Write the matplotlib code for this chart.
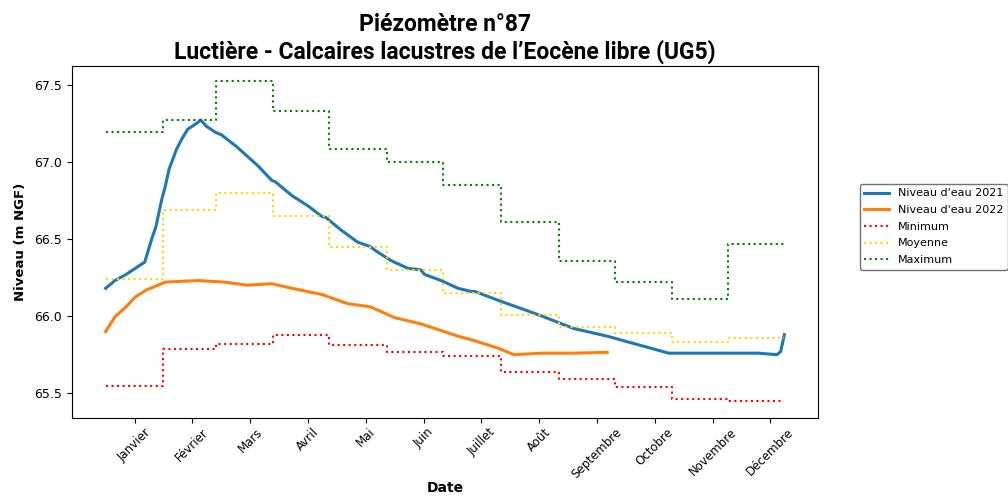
import numpy as np
import matplotlib
matplotlib.use("Agg")
import matplotlib.pyplot as plt

# ---- data (x = day of year, 0 = 1 January) ----
month_labels = ["Janvier", "Février", "Mars", "Avril", "Mai", "Juin",
                "Juillet", "Août", "Septembre", "Octobre", "Novembre", "Décembre"]
month_start_days = [0, 31, 59, 90, 120, 151, 181, 212, 243, 273, 304, 334]
year_end_day = 364

minimum = [65.55, 65.79, 65.82, 65.88, 65.81, 65.77, 65.74, 65.64, 65.59, 65.54, 65.46, 65.45]
moyenne = [66.24, 66.69, 66.80, 66.65, 66.45, 66.30, 66.15, 66.005, 65.93, 65.89, 65.83, 65.86]
maximum = [67.19, 67.27, 67.52, 67.33, 67.08, 66.995, 66.85, 66.61, 66.36, 66.22, 66.11, 66.47]

days_2021 = [0, 5, 11, 16, 21, 23, 25, 27, 30, 32, 34, 38, 41, 44, 49, 51, 54, 59, 62, 70,
             82, 89, 91, 100, 109, 116, 118, 126, 135, 142, 144, 153, 162, 169, 171, 180,
             189, 196, 198, 211, 225, 234, 251, 269, 284, 296, 302, 314, 332, 350, 360,
             362, 364]
niveau_2021 = [66.18, 66.23, 66.27, 66.31, 66.35, 66.43, 66.51, 66.58, 66.75, 66.84, 66.95,
               67.08, 67.15, 67.21, 67.25, 67.27, 67.23, 67.19, 67.175, 67.10,
               66.97, 66.88, 66.87, 66.78, 66.71, 66.645, 66.64, 66.56, 66.48, 66.45, 66.43,
               66.36, 66.31, 66.30, 66.27, 66.23,
               66.18, 66.16, 66.16, 66.10, 66.04, 66.00, 65.92, 65.87, 65.82, 65.78, 65.76,
               65.76, 65.76, 65.76, 65.75, 65.77, 65.88]

days_2022 = [0, 5, 11, 16, 22, 27, 32, 40, 50, 64, 76, 89, 100, 116, 130, 142, 155, 169,
             189, 198, 211, 219, 234, 251, 269]
niveau_2022 = [65.90, 65.995, 66.06, 66.125, 66.17, 66.195, 66.22, 66.225, 66.23, 66.22,
               66.20, 66.21, 66.18, 66.14, 66.08, 66.06, 65.99, 65.95,
               65.87, 65.84, 65.79, 65.75, 65.76, 65.76, 65.765]

# ---- figure ----
fig = plt.figure(figsize=(10.08, 4.98), dpi=100)
ax = fig.add_axes([0.0711, 0.1606, 0.7407, 0.7069])

ax.plot(days_2021, niveau_2021, color="#1f77b4", lw=2.2, label="Niveau d'eau 2021")
ax.plot(days_2022, niveau_2022, color="#ff7f0e", lw=2.2, label="Niveau d'eau 2022")

edges = month_start_days + [year_end_day]
for vals, col, lab in [(minimum, "red", "Minimum"),
                       (moyenne, "gold", "Moyenne"),
                       (maximum, "green", "Maximum")]:
    ax.step(edges, vals + [vals[-1]], where="post", color=col, ls=":", lw=1.5, label=lab)

ax.set_ylim(65.34, 67.62)
ax.set_yticks([65.5, 66.0, 66.5, 67.0, 67.5])
ax.tick_params(axis="y", labelsize=9)
ax.tick_params(axis="x", labelsize=8.5, pad=2)

tick_pos = np.arange(len(month_labels)) * 31 + 15.5
ax.set_xticks(tick_pos)
ax.set_xticklabels(month_labels, rotation=45)

ax.set_xlabel("Date", fontsize=10, fontweight="bold", labelpad=0)
ax.set_ylabel("Niveau (m NGF)", fontsize=9.5, fontweight="bold", labelpad=5)

ax.set_title("Piézomètre n°87\nLuctière - Calcaires lacustres de l’Eocène libre (UG5)",
             fontsize=16.5, fontweight="bold", family="Roboto", pad=5, linespacing=1.2)

leg = fig.legend(loc="upper left", bbox_to_anchor=(0.853, 0.6305), fontsize=8,
                 frameon=True, borderaxespad=0, handlelength=2.2, labelspacing=0.6)
leg.get_frame().set_edgecolor("0.45")
leg.get_frame().set_alpha(1)

fig.savefig("out.png", dpi=100)
